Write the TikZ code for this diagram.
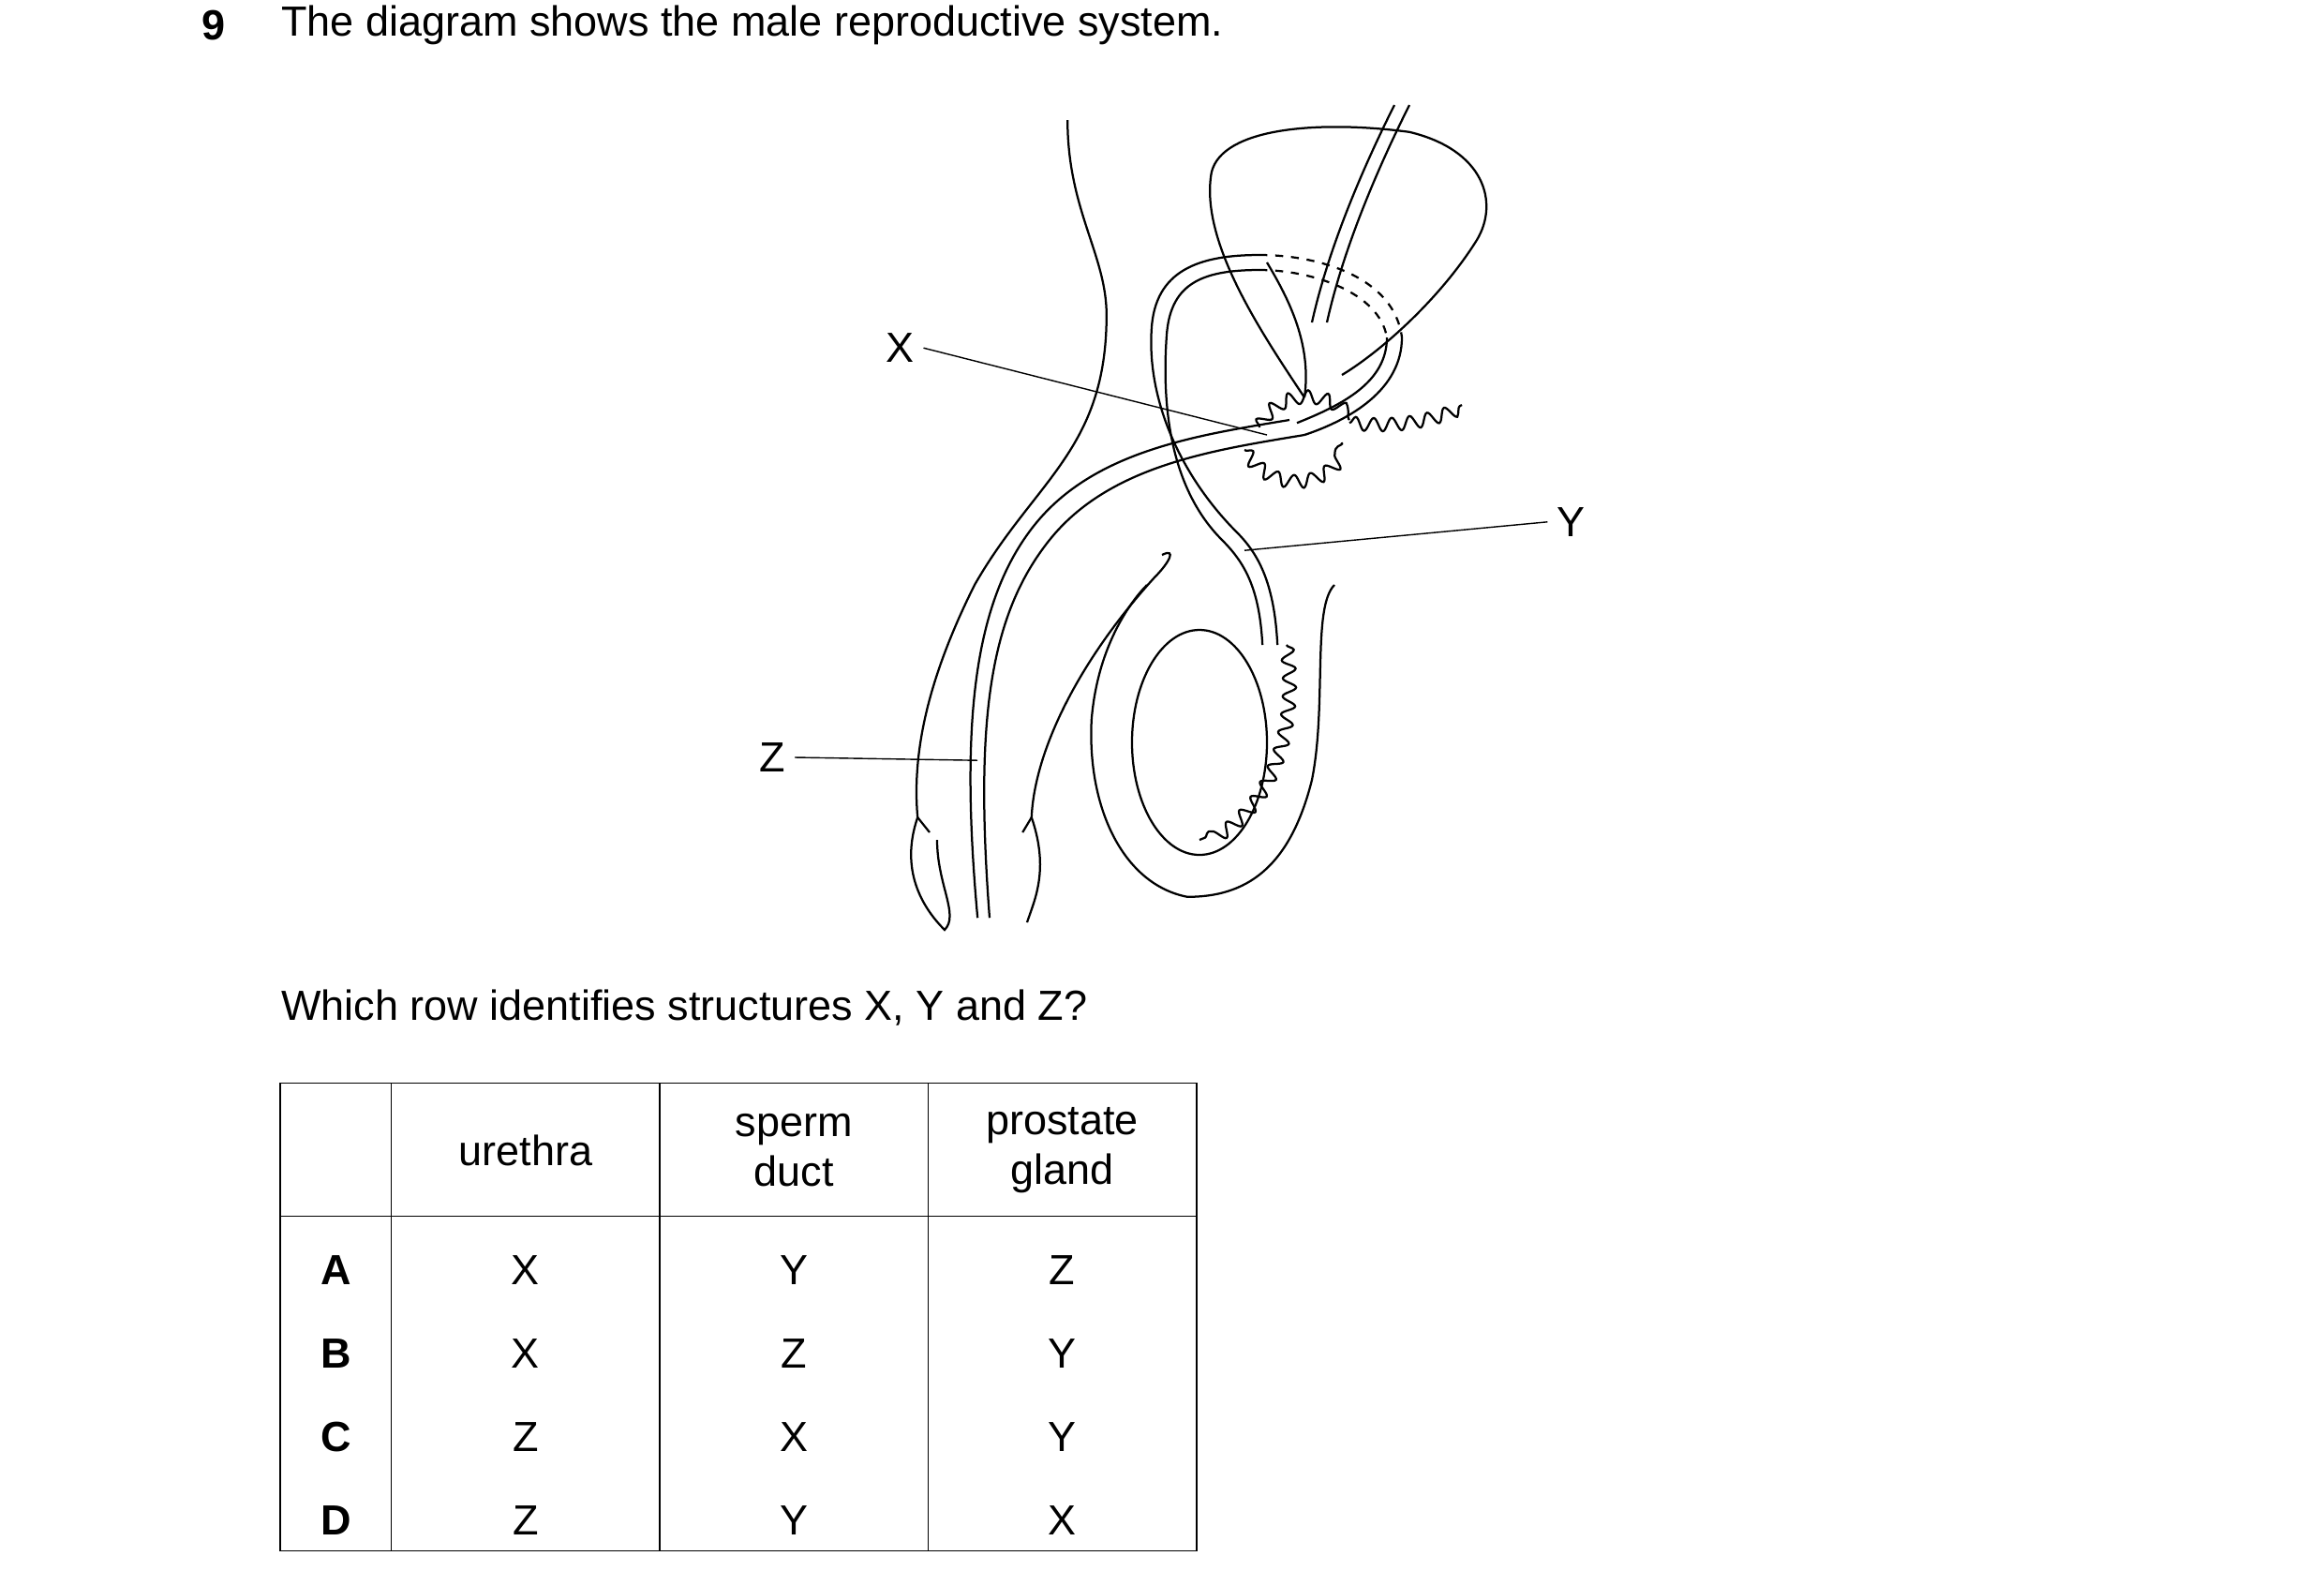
\documentclass[tikz,border=0pt]{standalone}
\usepackage{fontspec}
\setmainfont{Liberation Sans}
\usetikzlibrary{decorations.pathmorphing}
\begin{document}
\begin{tikzpicture}[x=0.2mm,y=-0.2mm,line width=0.8pt,
  every node/.style={font=\fontsize{16}{19}\selectfont},
  lbl/.style={line width=0.5pt},
  bumpy/.style={decorate,decoration={snake,amplitude=2.5pt,segment length=7pt}}]
\useasboundingbox (0,0) rectangle (1550,1047);

\node (num) [anchor=west,font=\fontsize{16}{19}\selectfont\bfseries] at (128,17) {9};
\node (title) [anchor=west] at (181,17) {The diagram shows the male reproductive system.};

% body outline and penis
\draw (712,80) .. controls (712,140) and (738,170) .. (738,210)
  .. controls (738,300) and (690,320) .. (650,390)
  .. controls (620,450) and (608,500) .. (612,545);
\draw (612,545) .. controls (600,580) and (615,605) .. (630,620)
  .. controls (640,610) and (625,590) .. (625,560);
\draw (775,370) .. controls (785,365) and (780,375) .. (770,385)
  .. controls (720,440) and (690,500) .. (688,545)
  .. controls (700,580) and (690,600) .. (685,615);
\draw (612,545) -- (620,555) (688,545) -- (682,555);

% bladder
\draw (870,265) .. controls (840,220) and (800,160) .. (808,115)
  .. controls (815,85) and (880,80) .. (940,88)
  .. controls (990,100) and (1000,135) .. (985,160)
  .. controls (960,200) and (920,235) .. (895,250);
\draw (870,265) .. controls (875,230) and (860,200) .. (845,175);
% ureter
\draw (940,70) .. controls (915,120) and (895,170) .. (885,215);
\draw (930,70) .. controls (905,120) and (885,170) .. (875,215);

% sperm duct
\draw (852,430) .. controls (850,390) and (840,370) .. (825,355)
  .. controls (790,320) and (765,270) .. (768,220)
  .. controls (770,180) and (800,170) .. (840,170);
\draw (842,430) .. controls (840,392) and (830,375) .. (815,360)
  .. controls (780,325) and (775,270) .. (778,225)
  .. controls (780,190) and (800,180) .. (840,180);
\draw[dashed] (840,170) .. controls (880,170) and (930,185) .. (935,225);
\draw[dashed] (840,180) .. controls (875,180) and (920,195) .. (925,225);
\draw (935,225) .. controls (935,260) and (900,280) .. (870,290);
\draw (925,225) .. controls (925,255) and (895,270) .. (865,282);

% urethra
\draw (870,290) .. controls (810,300) and (740,310) .. (700,360)
  .. controls (660,410) and (650,480) .. (660,612);
\draw (860,280) .. controls (800,290) and (730,300) .. (690,350)
  .. controls (650,400) and (640,480) .. (652,612);

% prostate and vesicles
\draw[bumpy] (830,300) .. controls (850,330) and (890,320) .. (895,295);
\draw[bumpy] (840,285) .. controls (850,265) and (880,260) .. (900,280);
\draw[bumpy] (900,282) .. controls (930,285) and (955,280) .. (975,270);

% scrotum and testis
\draw (890,390) .. controls (875,405) and (885,470) .. (875,520)
  .. controls (860,580) and (830,598) .. (792,598)
  .. controls (750,590) and (725,540) .. (728,480)
  .. controls (732,430) and (755,400) .. (765,390);
\draw (800,495) ellipse (45 and 75);
\draw[bumpy] (858,430) .. controls (865,480) and (850,540) .. (800,560);

% labels
\node (X) at (600,232) {X};
\coordinate (Xend) at (845,290);
\draw[lbl] (X.east) -- (Xend);
\node (Y) at (1048,348) {Y};
\coordinate (Yend) at (830,367);
\draw[lbl] (Y.west) -- (Yend);
\node (Z) at (515,505) {Z};
\coordinate (Zend) at (652,507);
\draw[lbl] (Z.east) -- (Zend);

\node (q) [anchor=west] at (181,672) {Which row identifies structures X, Y and Z?};

% table
\draw[lbl] (187,722) rectangle (798,1034);
\draw[lbl] (187,811) -- (798,811);
\foreach \xc in {261,440,619} \draw[lbl] (\xc,722) -- (\xc,1034);
\node (h1) at (350.5,767) {urethra};
\node (h2) [align=center] at (529.5,767) {sperm\\duct};
\node (h3) [align=center] at (708.5,767) {prostate\\gland};
\foreach \r/\a/\b/\c [count=\i] in {A/X/Y/Z,B/X/Z/Y,C/Z/X/Y,D/Z/Y/X} {
  \pgfmathsetmacro{\yy}{847+(\i-1)*55.5}
  \node (r\i) [font=\fontsize{16}{19}\selectfont\bfseries] at (224,\yy) {\r};
  \node (a\i) at (350.5,\yy) {\a};
  \node (b\i) at (529.5,\yy) {\b};
  \node (c\i) at (708.5,\yy) {\c};
}
\end{tikzpicture}
\end{document}
